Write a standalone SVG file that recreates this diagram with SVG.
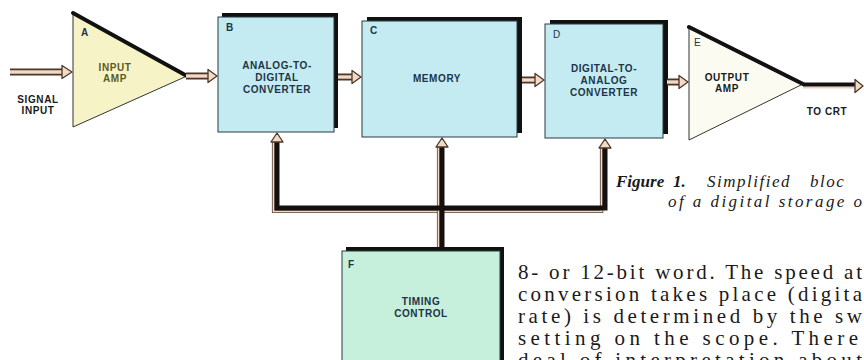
<svg xmlns="http://www.w3.org/2000/svg" width="864" height="360" viewBox="0 0 864 360">
<defs>
<style>
.lbl{font-family:"Liberation Sans",Arial,sans-serif;font-weight:bold;font-size:10px;letter-spacing:0.6px;text-anchor:middle;fill:#1e3448}
.plain{fill:#1a1a1a}
.tag{font-family:"Liberation Sans",Arial,sans-serif;font-size:10px;fill:#1e3448}
.tagb{font-weight:bold}
.blk{fill:#c3ebf1;stroke:#2a3a40;stroke-width:1}
.blkF{fill:#c6efdc;stroke:#2a3a40;stroke-width:1}
.shadow{fill:#111}
.amp{stroke:#333;stroke-width:1}
.edge{stroke:#111;stroke-width:4;stroke-linecap:round;fill:none}
.tubeO{stroke:#4d3629;stroke-width:7;fill:none}
.tubeI{stroke:#f1dac6;stroke-width:3.4;fill:none}
.head{fill:#f1dac6;stroke:#4d3629;stroke-width:1.3;stroke-linejoin:round}
.busK{stroke:#141010;stroke-width:5;fill:none}
.busE{stroke:#5b4032;stroke-width:3.4;fill:none}
.busC{stroke:#f1dac6;stroke-width:1.8;fill:none}
.body{font-family:"Liberation Serif","Times New Roman",serif;font-size:21px;fill:#1a1a1a}
.cap{font-family:"Liberation Serif","Times New Roman",serif;font-size:17px;font-style:italic;fill:#1a1a1a}
.capb{font-weight:bold}
</style>
</defs>
<rect width="864" height="360" fill="#ffffff"/>

<g id="node-A">
<polygon class="amp" points="73,13 73,127 187,76" fill="#f6f3c6"/>
<line class="edge" x1="73" y1="13" x2="187" y2="76"/>
<text class="tag tagb" x="81" y="36">A</text>
<text class="lbl" x="115" y="71" style="fill:#5e5a24">INPUT</text>
<text class="lbl" x="115" y="82" style="fill:#5e5a24">AMP</text>
</g>

<g id="node-B">
<rect class="shadow" x="222" y="13" width="116" height="115"/>
<rect class="blk" x="218" y="17" width="116" height="115"/>
<text class="tag tagb" x="226" y="31">B</text>
<text class="lbl" x="277" y="69">ANALOG-TO-</text>
<text class="lbl" x="277" y="81">DIGITAL</text>
<text class="lbl" x="277" y="93">CONVERTER</text>
</g>

<g id="node-C">
<rect class="shadow" x="367" y="17" width="155" height="116"/>
<rect class="blk" x="362" y="21" width="155" height="116"/>
<text class="tag tagb" x="370" y="34">C</text>
<text class="lbl" x="437" y="82">MEMORY</text>
</g>

<g id="node-D">
<rect class="shadow" x="550" y="20" width="118" height="114"/>
<rect class="blk" x="545" y="24" width="118" height="114"/>
<text class="tag" x="553" y="38">D</text>
<text class="lbl" x="604" y="72">DIGITAL-TO-</text>
<text class="lbl" x="604" y="84">ANALOG</text>
<text class="lbl" x="604" y="96">CONVERTER</text>
</g>

<g id="node-E">
<polygon class="amp" points="689,27 689,140 803,84" fill="#fbfbf1"/>
<line class="edge" x1="689" y1="27" x2="803" y2="84"/>
<text class="tag plain" x="694" y="46">E</text>
<text class="lbl plain" x="727" y="81">OUTPUT</text>
<text class="lbl plain" x="727" y="92">AMP</text>
</g>

<g id="node-F">
<rect class="shadow" x="346" y="247" width="158" height="120"/>
<rect class="blkF" x="342" y="251" width="158" height="120"/>
<text class="tag tagb" x="348" y="268">F</text>
<text class="lbl" x="421" y="305">TIMING</text>
<text class="lbl" x="421" y="317">CONTROL</text>
</g>

<g id="connectors">
<path class="tubeO" d="M10,72 H63"/>
<path class="tubeI" d="M10,72 H63"/>
<polygon class="head" points="62,65.5 72,72 62,78.5"/>
<path class="tubeO" d="M186,76 H209"/>
<path class="tubeI" d="M186,76 H209"/>
<polygon class="head" points="208,69.5 217,76 208,82.5"/>
<path class="tubeO" d="M338,77 H353"/>
<path class="tubeI" d="M338,77 H353"/>
<polygon class="head" points="352,70.5 361,77 352,83.5"/>
<path class="tubeO" d="M522,80 H536"/>
<path class="tubeI" d="M522,80 H536"/>
<polygon class="head" points="535,73.5 544,80 535,86.5"/>
<path class="tubeO" d="M667,82 H680"/>
<path class="tubeI" d="M667,82 H680"/>
<polygon class="head" points="679,75.5 688,82 679,88.5"/>
<path d="M803,87.5 H856" stroke="#e8cfc0" stroke-width="2" fill="none"/>
<path d="M803,84.5 H856" stroke="#141010" stroke-width="4" fill="none"/>
<polygon class="head" points="855,79.5 863,86 855,92.5"/>
<path class="busE" transform="translate(-3.4,3.4)" d="M277,137 V208 H605 V143"/>
<path class="busC" transform="translate(-3.4,3.4)" d="M277,137 V208 H605 V143"/>
<path class="busE" transform="translate(-3.4,0)" d="M442,146 V247"/>
<path class="busC" transform="translate(-3.4,0)" d="M442,146 V247"/>
<path class="busK" d="M277,140 V208 H605 V146"/>
<path class="busK" d="M442,146 V248"/>
<polygon class="head" points="277,133 283,142 271,142"/>
<polygon class="head" points="442,138 448,147 436,147"/>
<polygon class="head" points="605,139 611,148 599,148"/>
</g>

<g id="io-labels">
<text class="lbl plain" x="38" y="103">SIGNAL</text>
<text class="lbl plain" x="38" y="114">INPUT</text>
<text class="lbl plain" x="827" y="115">TO CRT</text>
</g>

<g id="caption">
<text class="cap capb" x="616" y="187">Figure</text>
<text class="cap capb" x="673" y="187">1.</text>
<text class="cap" x="707" y="187" letter-spacing="1.5">Simplified</text>
<text class="cap" x="810" y="187" letter-spacing="1.5">bloc</text>
<text class="cap" y="207" x="668" textLength="194" lengthAdjust="spacing">of a digital storage o</text>
</g>

<g id="body-text">
<text class="body" x="518" y="279" textLength="344" lengthAdjust="spacing">8- or 12-bit word. The speed at</text>
<text class="body" x="518" y="301" textLength="344" lengthAdjust="spacing">conversion takes place (digita</text>
<text class="body" x="518" y="323" textLength="344" lengthAdjust="spacing">rate) is determined by the sw</text>
<text class="body" x="518" y="345" textLength="340" lengthAdjust="spacing">setting on the scope. There</text>
<text class="body" x="518" y="367" textLength="344" lengthAdjust="spacing">deal of interpretation about</text>
</g>
</svg>
